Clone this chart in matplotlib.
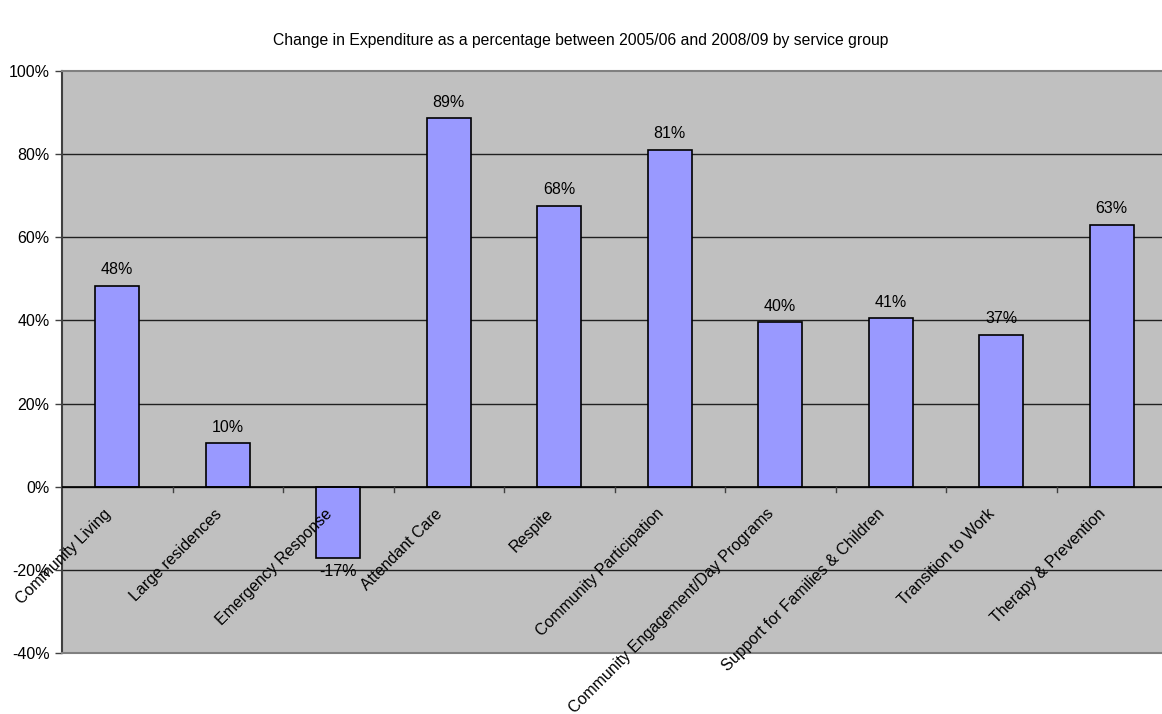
import matplotlib
matplotlib.use("Agg")
import matplotlib.pyplot as plt
import numpy as np

categories = ["Community Living", "Large residences", "Emergency Response",
              "Attendant Care", "Respite", "Community Participation",
              "Community Engagement/Day Programs", "Support for Families & Children",
              "Transition to Work", "Therapy & Prevention"]
values = [48.4, 10.4, -17.2, 88.7, 67.6, 81.1, 39.6, 40.5, 36.6, 63.0]
labels = ["48%", "10%", "-17%", "89%", "68%", "81%", "40%", "41%", "37%", "63%"]
yticks = [-40, -20, 0, 20, 40, 60, 80, 100]

plt.rcParams['font.family'] = ['Liberation Sans', 'DejaVu Sans']
fs = 11.5

fig = plt.figure(figsize=(11.62, 7.14), dpi=100)
W, H = 1162, 714
left, right, top, bottom = 62, 1167, 71, 653
ax = fig.add_axes([left / W, 1 - bottom / H, (right - left) / W, (bottom - top) / H])
ax.set_facecolor("#C0C0C0")

x = np.arange(len(categories)) + 0.5
ax.bar(x, values, width=0.4, color="#9999FF", edgecolor="black", linewidth=1.2, zorder=3)

ax.set_xlim(0, len(categories))
ax.set_ylim(-40, 100)
ax.set_yticks(yticks)
ax.set_yticklabels([f"{v}%" for v in yticks], fontsize=fs)
ax.tick_params(axis='y', length=5, width=1, color="#404040", pad=4)
ax.set_xticks([])

for v in yticks[1:-1]:
    ax.axhline(v, color="#202020", linewidth=1, zorder=1)
ax.axhline(0, color="black", linewidth=1.2, zorder=4)

# category tick marks on the zero line
for b in range(1, len(categories)):
    ax.plot([b, b], [0, -1.3], color="#404040", linewidth=1, zorder=4)

for s in ["top", "bottom", "right"]:
    ax.spines[s].set_color("#808080")
    ax.spines[s].set_linewidth(1.5)
ax.spines["left"].set_color("#404040")
ax.spines["left"].set_linewidth(1.5)

for xi, v, lab in zip(x, values, labels):
    if v >= 0:
        ax.annotate(lab, (xi, v), xytext=(0, 6), textcoords="offset points",
                    ha="center", va="bottom", fontsize=fs, zorder=5)
    else:
        ax.annotate(lab, (xi, v), xytext=(0, -4), textcoords="offset points",
                    ha="center", va="top", fontsize=fs, zorder=5)

for xi, cat in zip(x, categories):
    ax.annotate(cat, (xi, 0), xytext=(-10, -14), textcoords="offset points",
                ha="right", va="top", rotation=45, rotation_mode="anchor",
                fontsize=fs, zorder=5)

fig.text(0.5, 1 - 41 / H, "Change in Expenditure as a percentage between 2005/06 and 2008/09 by service group",
         ha="center", va="center", fontsize=11.3)

fig.savefig("out.png", dpi=100)
